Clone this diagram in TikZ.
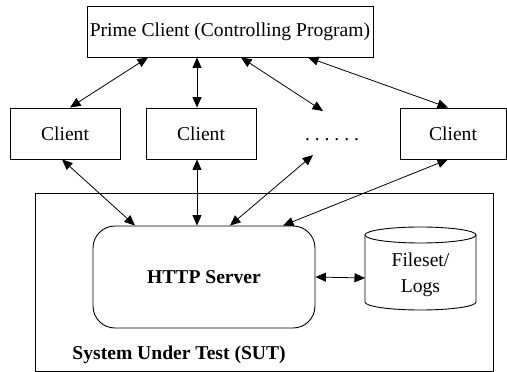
\documentclass[tikz,border=0pt]{standalone}
\usepackage{fontspec}
\setmainfont{Liberation Serif}
\usetikzlibrary{arrows.meta,calc}
\begin{document}
\begin{tikzpicture}[x=1pt,y=-1pt, line width=0.9pt,
  every node/.style={font=\fontsize{19.6}{26}\selectfont},
  box/.style={draw, rectangle, inner sep=0pt},
  client/.style={box, minimum width=110pt, minimum height=51pt},
  link/.style={{Triangle[length=10.5pt,width=9pt]}-{Triangle[length=10.5pt,width=9pt]}, line width=0.8pt}]
\useasboundingbox (0,0) rectangle (507,372);

% controlling program and load generators
\node[box, minimum width=286pt, minimum height=51pt] (prime) at (230,31.5) {Prime Client (Controlling Program)};
\node[client] (c1) at (65,133.5) {Client};
\node[client] (c2) at (201,133.5) {Client};
\node[anchor=base, inner sep=0pt] (dots) at (332,140) {\frenchspacing . . . . . .};
\node[client, minimum width=106pt] (c4) at (453,133.5) {Client};

% system under test
\node[box, minimum width=458pt, minimum height=178pt] (sut) at (264,282) {};
\node[anchor=west, inner sep=0pt, font=\fontsize{19.6}{26}\selectfont\bfseries] (sutlabel) at (72,355) {System Under Test (SUT)};
\node[draw, rounded corners=22pt, minimum width=222pt, minimum height=102pt, font=\fontsize{19.6}{26}\selectfont\bfseries] (http) at (204,277) {HTTP Server};

% file store drawn as a cylinder
\draw (365,235) -- (365,302) arc[start angle=180, end angle=0, x radius=55.5, y radius=8] -- (476,235);
\draw (420.5,235) ellipse [x radius=55.5, y radius=8];
\node[align=center, inner sep=0pt] (store) at (420.5,275) {Fileset/\\Logs};
\coordinate (cylw) at (365,278);

% connections
\draw[link] ([xshift=-82pt]prime.south) -- ([xshift=5pt]c1.north);
\draw[link] ([xshift=-33pt]prime.south) -- ([xshift=-4pt]c2.north);
\draw[link] ([xshift=11pt]prime.south) -- ($(dots.base)+(-9,-29)$);
\draw[link] ([xshift=78pt]prime.south) -- ([xshift=-5pt]c4.north);
\draw[link] ([xshift=-3pt]c1.south) -- ([xshift=-69pt]http.north);
\draw[link] ([xshift=-4pt]c2.south) -- ([xshift=-7pt]http.north);
\draw[link] ($(dots.base)+(-19,15)$) -- ([xshift=26pt]http.north);
\draw[link] ([xshift=-5pt]c4.south) -- ([xshift=79pt]http.north);
\draw[link] (http.east) -- (cylw);
\end{tikzpicture}
\end{document}
